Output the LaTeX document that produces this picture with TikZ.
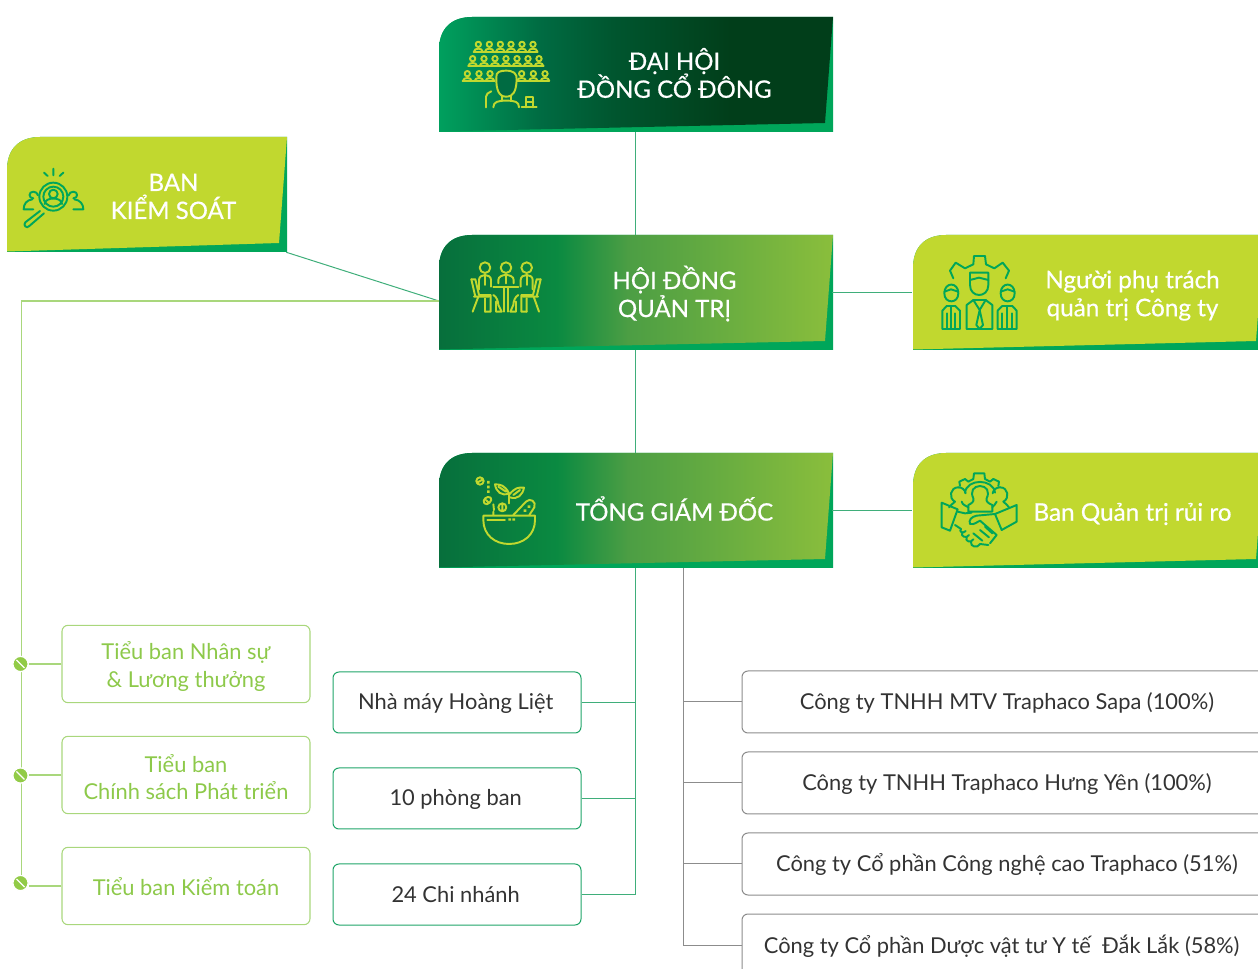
\documentclass[tikz,border=0pt]{standalone}
\usepackage{fontspec}
\setmainfont{Lato}
\newfontfamily\medfont[FakeBold=0.6]{Lato}
\setlength{\normallineskiplimit}{-30pt}
\setlength{\lineskiplimit}{-30pt}
\newcommand{\dn}[2]{\raisebox{-#1pt}[\height][\depth]{#2}}
\definecolor{lime}{HTML}{C1D82F}
\definecolor{basegreen}{HTML}{00A65A}
\definecolor{linegreen}{HTML}{3FAE7A}
\definecolor{lightline}{HTML}{A9D77C}
\definecolor{softgreen}{HTML}{8DC94A}
\definecolor{boxgreen}{HTML}{1FA568}
\definecolor{greyline}{HTML}{8C8C8C}
\definecolor{darktext}{HTML}{333333}
\definecolor{s1}{HTML}{00A05E}\definecolor{s2}{HTML}{006B42}\definecolor{s3}{HTML}{00562F}\definecolor{s4}{HTML}{013E1A}
\definecolor{m1}{HTML}{076F3C}\definecolor{m2}{HTML}{0A8A41}\definecolor{m3}{HTML}{4C9E44}\definecolor{m4}{HTML}{8ABE3C}
\pgfdeclarehorizontalshading{shtop}{100bp}{color(0bp)=(s1); color(25bp)=(s1); color(38bp)=(s2); color(47bp)=(s3); color(62bp)=(s4); color(100bp)=(s4)}
\pgfdeclarehorizontalshading{shmid}{100bp}{color(0bp)=(m1); color(25bp)=(m1); color(40bp)=(m2); color(49bp)=(m3); color(75bp)=(m4); color(100bp)=(m4)}
\newcommand{\bannerface}[5]{% x,y,w,option,name
  \path[fill=basegreen] (#1,#2+115) -- (#1,#2+33) .. controls (#1,#2+12) and (#1+12,#2) .. (#1+33,#2) -- (#1+#3,#2) -- (#1+#3,#2+115) -- cycle;
  \path[#4] (#1,#2+114.5) -- (#1,#2+33) .. controls (#1,#2+12) and (#1+12,#2) .. (#1+33,#2) -- (#1+#3,#2) -- (#1+#3-8,#2+106) -- cycle;
  \node[bannerbox,minimum width=#3*0.75pt] (#5) at (#1+#3/2-1,#2+57.5) {};
}
\tikzset{
  bannerbox/.style={inner sep=0pt,minimum height=86.25pt},
  facetop/.style={shade,shading=shtop},
  facemid/.style={shade,shading=shmid},
  facelime/.style={fill=lime},
  bannertext/.style={text=white,align=center,font=\medfont\fontsize{18}{21}\selectfont},
  sidetext/.style={text=white,align=center,font=\medfont\fontsize{18.2}{21}\selectfont},
  softbox/.style={draw=lightline,line width=0.8pt,rounded corners=4.5pt,text=softgreen,align=center,minimum width=186pt,minimum height=58pt,inner sep=0pt,font=\fontsize{16.4}{21}\selectfont},
  midbox/.style={draw=boxgreen,line width=0.75pt,rounded corners=4.5pt,text=darktext,align=center,minimum width=186pt,minimum height=45.75pt,inner sep=0pt,font=\fontsize{16.4}{21}\selectfont},
  corpbox/.style={draw=greyline,line width=0.75pt,rounded corners=4.5pt,text=darktext,align=center,minimum width=396pt,minimum height=46.5pt,inner sep=0pt,font=\fontsize{16.4}{21}\selectfont},
  pill/.style={circle,fill=softgreen!90!lime,draw=white,line width=1pt,minimum size=11.5pt,inner sep=0pt},
  conn/.style={draw=linegreen,line width=0.75pt},
  softconn/.style={draw=lightline,line width=0.8pt},
  greyconn/.style={draw=greyline,line width=0.75pt},
  iconlime/.style={draw=lime,line width=1.45pt,line cap=round,line join=round},
  icongreen/.style={draw=basegreen,line width=1.45pt,line cap=round,line join=round},
  iconat/.style 2 args={shift={(#1,#2)},x=0.25pt,y=-0.25pt},
}
\begin{document}
\begin{tikzpicture}[x=0.75pt,y=-0.75pt]
\useasboundingbox (0,0) rectangle (1258,969);
\clip (0,0) rectangle (1258,969);
% banners
\bannerface{439}{17}{394}{facetop}{dhd}
\bannerface{7}{137}{280}{facelime}{bks}
\bannerface{439}{235}{394}{facemid}{hdqt}
\bannerface{913}{235}{351}{facelime}{nguoi}
\bannerface{439}{453}{394}{facemid}{tgd}
\bannerface{913}{453}{351}{facelime}{rui}
\node[bannertext] (dhdt) at (674.5,73) {ĐẠI HỘI\\ĐỒNG CỔ ĐÔNG};
\node[bannertext] (bkst) at (173.5,196.5) {BAN\\KIỂM SOÁT};
\node[bannertext] (hdqtt) at (674.5,293.5) {HỘI ĐỒNG\\QUẢN TRỊ};
\node[bannertext] (tgdt) at (674.5,508.5) {TỔNG GIÁM ĐỐC};
\node[sidetext] (nguoit) at (1132.5,295.5) {Người phụ trách\\quản trị Công ty};
\node[sidetext] (ruit) at (1132.5,514) {Ban Quản trị rủi ro};
% junctions
\coordinate (hdqtJ) at (439,301);
\coordinate (tgdJ) at (683,568);
% boxes
\node[softbox] (t1) at (186,664) {\dn{2.25}{Tiểu ban Nhân sự}\\\dn{2.25}{\&\ Lương thưởng}};
\node[softbox] (t2) at (186,775) {\dn{2.25}{Tiểu ban}\\\dn{1.5}{Chính sách Phát triển}};
\node[softbox] (t3) at (186,886) {\dn{0.75}{Tiểu ban Kiểm toán}};
\node[midbox] (m1box) at (457,702.5) {\dn{0.75}{Nhà máy Hoàng Liệt}\hspace*{2pt}};
\node[midbox] (m2box) at (457,798.5) {\dn{0.75}{10 phòng ban}\hspace*{2pt}};
\node[midbox] (m3box) at (457,894.5) {\dn{0}{24 Chi nhánh}\hspace*{2pt}};
\node[corpbox] (c1) at (1006,702) {\hspace*{1.5pt}\dn{0.75}{Công ty TNHH MTV Traphaco Sapa (100\%)}};
\node[corpbox] (c2) at (1006,783) {\hspace*{1.5pt}\dn{0.75}{Công ty TNHH Traphaco Hưng Yên (100\%)}};
\node[corpbox] (c3) at (1006,864) {\hspace*{1.5pt}\dn{0.4}{Công ty Cổ phần Công nghệ cao Traphaco (51\%)}};
\node[corpbox] (c4) at (1006,945) {\dn{0.75}{Công ty Cổ phần Dược vật tư Y tế\ \ Đắk Lắk (58\%)}\hspace{6.5pt}};
% connectors
\draw[conn] (dhd.south) -- (hdqt.north);
\draw[conn] (hdqt.south) -- (tgd.north);
\draw[conn] (hdqt.east) -- (nguoi.west);
\draw[conn] (tgd.east) -- (rui.west);
\draw[conn] (bks.south east) -- (hdqtJ);
\node[pill] (p3) at (20.5,883) {};
\draw[softconn] (hdqtJ) -| ([xshift=0.4pt]p3.north);
\node[pill] (p1) at (20.5,664) {};
\node[pill] (p2) at (20.5,775.5) {};
\foreach \p in {p1,p2,p3} \draw[white,line width=1pt] ([shift={(-4,-4)}]\p.center) -- ([shift={(4,4)}]\p.center);
\draw[softconn] (t1.west) -- (t1.west -| p1.east);
\draw[softconn] (t2.west) -- (t2.west -| p2.east);
\draw[softconn] (t3.west) -- (t3.west -| p3.east);
\draw[conn] (tgd.south) |- (m3box.east);
\draw[conn] (m1box.east) -- (m1box.east -| tgd.south);
\draw[conn] (m2box.east) -- (m2box.east -| tgd.south);
\draw[greyconn] (tgdJ) |- (c4.west);
\draw[greyconn] (c1.west) -- (c1.west -| tgdJ);
\draw[greyconn] (c2.west) -- (c2.west -| tgdJ);
\draw[greyconn] (c3.west) -- (c3.west -| tgdJ);
% icon: audience
\begin{scope}[iconat={430}{0},iconlime]
  \foreach \b/\r in {145/155,178/155,211/155,243/155,276/155,309/155,128/198,162/198,195/198,228/198,261/198,294/198,327/198,112/243,147/243,180/243,275/243,310/243,345/243}{
    \draw (\b,\r-22) circle (8);
    \draw (\b-13,\r) .. controls (\b-13,\r-12) and (\b+13,\r-12) .. (\b+13,\r);
  }
  \draw (131,155) -- (323,155) (115,198) -- (341,198) (98,243) -- (194,243) (263,243) -- (356,243);
  \path[fill=s2] (199,232) .. controls (197,215) and (212,212) .. (228,212) .. controls (250,212) and (262,220) .. (260,240) .. controls (258,275) and (250,290) .. (228,290) .. controls (207,290) and (198,270) .. (199,232);
  \draw (199,232) .. controls (197,215) and (212,212) .. (228,212) .. controls (250,212) and (262,220) .. (260,240) .. controls (258,275) and (250,290) .. (228,290) .. controls (207,290) and (198,270) .. (199,232);
  \draw (215,288) -- (215,302) (243,288) -- (243,302);
  \draw (190,322) .. controls (190,305) and (205,302) .. (228,302) .. controls (255,302) and (267,305) .. (267,322);
  \draw (168,322) -- (168,290) .. controls (168,282) and (175,278) .. (184,274);
  \draw (275,322) -- (320,322) (288,322) -- (288,292) -- (310,292) -- (310,322) (288,305) -- (310,305);
\end{scope}
% icon: inspection
\begin{scope}[iconat={0}{130},icongreen]
  \draw (160,200) circle (42);
  \draw (160,200) circle (30);
  \draw (160,192) circle (13);
  \draw (134,222) .. controls (134,200) and (186,200) .. (186,222);
  \draw (160,116) -- (160,136) (132,128) -- (143,138) (190,128) -- (179,138);
  \draw (100,205) ..controls (85,205) and (85,185) .. (100,185) .. controls (108,185) and (112,190) .. (114,196);
  \draw (97,208) .. controls (80,210) and (71,222) .. (71,238) -- (100,238);
  \draw (220,205) ..controls (235,205) and (235,185) .. (220,185) .. controls (212,185) and (208,190) .. (206,196);
  \draw (223,208) .. controls (240,210) and (250,222) .. (250,238) -- (220,238);
  \draw (120,243) -- (76,277) .. controls (68,285) and (80,298) .. (88,288) -- (132,250);
\end{scope}
% icon: meeting
\begin{scope}[iconat={430}{230},iconlime]
  \draw (165,113) circle (16) (228,113) circle (16) (290,113) circle (16);
  \draw (147,178) -- (147,150) .. controls (147,130) and (183,130) .. (183,150) -- (183,170);
  \draw (165,135) -- (165,165);
  \draw (205,160) -- (205,150) .. controls (205,130) and (251,130) .. (251,150) -- (251,160);
  \draw (228,135) -- (228,160);
  \draw (272,170) -- (272,150) .. controls (272,130) and (308,130) .. (308,150) -- (308,178);
  \draw (290,135) -- (290,165);
  \draw (190,172) -- (265,172) (221,172) -- (221,245) (235,172) -- (235,245);
  \draw (124,148) -- (136,148) -- (147,195) -- (182,195) -- (182,245) -- (165,245);
  \draw (124,148) -- (136,200) (132,200) -- (178,200);
  \draw (145,200) -- (128,245) (165,245) -- (165,205);
  \draw (332,148) -- (320,148) -- (309,195) -- (274,195) -- (274,245) -- (290,245);
  \draw (332,148) -- (320,200) (324,200) -- (278,200);
  \draw (311,200) -- (327,245) (290,245) -- (290,205);
  \draw (190,195) .. controls (200,200) and (205,215) .. (205,225) -- (215,245) -- (198,245) -- (198,215);
  \draw (265,195) .. controls (255,200) and (250,215) .. (250,225) -- (241,245) -- (258,245) -- (258,215);
\end{scope}
% icon: officers
\begin{scope}[iconat={905}{230},icongreen]
  \draw (145,145) -- (135,122) -- (152,98) -- (180,115) -- (205,103) -- (207,78) -- (240,78) -- (243,103) -- (268,115) -- (293,98) -- (312,122) -- (302,145);
  \draw (195,128) -- (195,165) .. controls (195,205) and (250,205) .. (250,165) -- (250,128) -- cycle;
  \draw (195,150) -- (222,143) -- (250,150);
  \draw (118,190) .. controls (118,155) and (160,155) .. (160,190) .. controls (160,222) and (118,222) .. (118,190);
  \draw (118,185) -- (138,178) -- (160,185);
  \draw (287,190) .. controls (287,155) and (329,155) .. (329,190) .. controls (329,222) and (287,222) .. (287,190);
  \draw (287,185) -- (308,178) -- (329,185);
  \draw (112,297) -- (112,242) -- (125,228) -- (151,228) -- (165,242) -- (165,297) -- cycle;
  \draw (138,228) -- (138,297) (125,250) -- (125,297) (151,250) -- (151,297);
  \draw (278,297) -- (278,242) -- (292,228) -- (322,228) -- (335,242) -- (335,297) -- cycle;
  \draw (307,228) -- (307,297) (292,250) -- (292,297) (322,250) -- (322,297);
  \draw (185,297) -- (185,225) -- (205,210) -- (242,210) -- (262,225) -- (262,297) -- cycle;
  \draw (205,210) -- (224,240) -- (242,210) (224,240) -- (214,285) -- (224,297) -- (234,285) -- (224,240);
\end{scope}
% icon: bowl
\begin{scope}[iconat={430}{450},iconlime]
  \draw (160,197) -- (315,197) -- (315,210) .. controls (315,255) and (280,282) .. (237,282) .. controls (195,282) and (160,255) .. (160,210) -- cycle;
  \draw (172,210) -- (225,210);
  \path[fill=lime,draw=none] (235,205) rectangle (243,212) (247,205) rectangle (255,212) (171,93) rectangle (179,101) (171,107) rectangle (179,115) (171,121) rectangle (179,129) (281,178) rectangle (289,186) (293,166) rectangle (301,174);
  \draw (150,93) circle (11) (143,97) -- (157,89);
  \draw (217,172) circle (12) (217,165) -- (217,179);
  \draw (163,160) .. controls (155,150) and (172,135) .. (182,143) .. controls (190,150) and (172,170) .. (163,160) (168,150) -- (176,158);
  \draw (190,163) -- (192,180) (190,185) -- (190,195);
  \draw (237,160) -- (237,130);
  \draw (237,130) .. controls (225,105) and (210,103) .. (195,103) .. controls (198,125) and (215,140) .. (237,130) (205,110) -- (228,125);
  \draw (237,135) .. controls (255,112) and (265,112) .. (282,113) .. controls (278,135) and (262,150) .. (240,142) (270,120) -- (250,135);
  \draw (250,195) -- (288,155) .. controls (300,142) and (320,155) .. (313,172) -- (298,195);
\end{scope}
% icon: risk
\begin{scope}[iconat={905}{450},icongreen]
  \draw (165,108) -- (163,95) -- (180,87) -- (190,95) -- (205,87) -- (207,70) -- (238,70) -- (240,87) -- (255,95) -- (265,87) -- (282,95) -- (280,108);
  \draw (180,128) .. controls (185,85) and (265,85) .. (270,128);
  \draw (225,108) ..controls (205,108) and (195,125) .. (205,145) .. controls (208,155) and (200,160) .. (190,165) -- (190,185) -- (262,185) -- (262,165) .. controls (250,160) and (242,155) .. (245,145) .. controls (255,125) and (245,108) .. (225,108);
  \draw (160,112) ..controls (135,112) and (130,145) .. (150,155) .. controls (145,162) and (135,165) .. (132,172);
  \draw (160,112) .. controls (172,112) and (180,120) .. (182,130) (170,155) .. controls (172,165) and (185,168) .. (190,172);
  \draw (285,112) ..controls (310,112) and (315,145) .. (295,155) .. controls (300,162) and (310,165) .. (312,172);
  \draw (285,112) .. controls (273,112) and (265,120) .. (263,130) (275,155) .. controls (273,165) and (262,168) .. (262,172);
  \draw (110,158) -- (158,178) -- (135,242) -- (110,232) -- cycle;
  \draw (335,165) -- (335,215) -- (290,240) -- (270,192) -- cycle;
  \draw (158,185) -- (180,190) -- (200,188) (150,225) -- (168,237);
  \draw (270,192) -- (215,197) .. controls (200,200) and (190,210) .. (195,222) .. controls (210,225) and (215,215) .. (225,212) -- (275,255) -- (255,280);
  \draw (168,237) .. controls (160,245) and (175,252) .. (182,243) (172,248) .. controls (165,258) and (185,268) .. (192,255) (185,262) .. controls (178,272) and (198,282) .. (205,268) (198,276) .. controls (195,290) and (218,296) .. (225,282);
  \draw (225,282) -- (250,285) (205,250) -- (232,272) (225,240) -- (252,262) (240,230) -- (262,250);
\end{scope}
\end{tikzpicture}
\end{document}
